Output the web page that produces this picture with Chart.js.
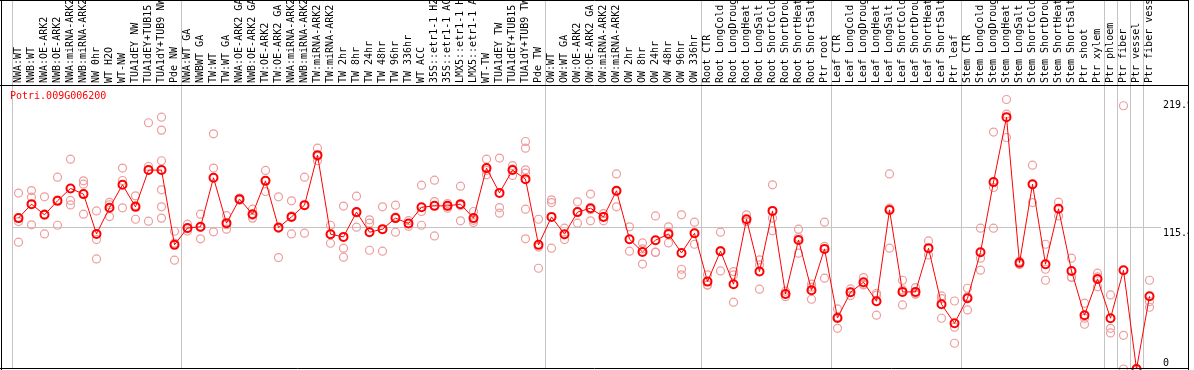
<!DOCTYPE html>
<html>
<head>
<meta charset="utf-8">
<script src="https://cdn.jsdelivr.net/npm/chart.js@4.4.1/dist/chart.umd.min.js"></script>
<style>
  body { margin: 0; background: #fff; }
</style>
</head>
<body>
<canvas id="expr" width="1194" height="370"></canvas>
<script>
'use strict';

const geneName = 'Potri.009G006200';

const samples = [
  'NWA:WT', 'NWB:WT', 'NWA:OE-ARK2', 'NWB:OE-ARK2', 'NWA:miRNA-ARK2', 'NWB:miRNA-ARK2',
  'NW 0hr', 'WT H2O', 'WT-NW', 'TUA1dEY NW', 'TUA1dEY+TUB15 NW', 'TUA1dY+TUB9 NW', 'Pde NW',
  'NWA:WT GA', 'NWBWT GA', 'TW:WT', 'TW:WT GA', 'NWA:OE-ARK2 GA', 'NWB:OE-ARK2 GA',
  'TW:OE-ARK2', 'TW:OE-ARK2 GA', 'NWA:miRNA-ARK2', 'NWB:miRNA-ARK2', 'TW:miRNA-ARK2',
  'TW:miRNA-ARK2', 'TW 2hr', 'TW 8hr', 'TW 24hr', 'TW 48hr', 'TW 96hr', 'TW 336hr', 'WT ACC',
  '35S::etr1-1 H2O', '35S::etr1-1 ACC', 'LMX5::etr1-1 H2O', 'LMX5::etr1-1 ACC', 'WT-TW',
  'TUA1dEY TW', 'TUA1dEY+TUB15 TW', 'TUA1dY+TUB9 TW', 'Pde TW',
  'OW:WT', 'OW:WT GA', 'OW:OE-ARK2', 'OW:OE-ARK2 GA', 'OW:miRNA-ARK2', 'OW:miRNA-ARK2',
  'OW 2hr', 'OW 8hr', 'OW 24hr', 'OW 48hr', 'OW 96hr', 'OW 336hr',
  'Root CTR', 'Root LongCold', 'Root LongDrought', 'Root LongHeat', 'Root LongSalt',
  'Root ShortCold', 'Root ShortDrought', 'Root ShortHeat', 'Root ShortSalt', 'Ptr root',
  'Leaf CTR', 'Leaf LongCold', 'Leaf LongDrought', 'Leaf LongHeat', 'Leaf LongSalt',
  'Leaf ShortCold', 'Leaf ShortDrought', 'Leaf ShortHeat', 'Leaf ShortSalt', 'Ptr leaf',
  'Stem CTR', 'Stem LongCold', 'Stem LongDrought', 'Stem LongHeat', 'Stem LongSalt',
  'Stem ShortCold', 'Stem ShortDrought', 'Stem ShortHeat', 'Stem ShortSalt', 'Ptr shoot',
  'Ptr xylem', 'Ptr phloem', 'Ptr fiber', 'Ptr vessel', 'Ptr fiber vessel'
];

// mean expression per sample (red line)
const meanValues = [
  123.1, 134.5, 125.8, 137.2, 147.3, 142.7, 110.2, 131.5, 150.3, 132.3, 162.3, 162.3, 101.3,
  115.1, 116.0, 156.0, 119.0, 138.6, 126.3, 153.5, 115.4, 124.1, 133.7, 174.5, 110.0, 107.8,
  128.0, 111.6, 114.1, 123.1, 118.7, 132.0, 133.1, 133.1, 134.5, 123.1, 163.9, 143.7, 162.3,
  154.9, 101.3,
  124.1, 110.0, 128.0, 131.2, 124.1, 145.4, 105.9, 95.5, 105.1, 110.2, 94.7, 110.8,
  71.3, 96.1, 69.2, 122.2, 79.5, 129.0, 61.2, 105.3, 64.3, 98.0,
  41.6, 62.6, 70.8, 55.3, 129.8, 62.9, 62.9, 98.6, 52.8, 37.3,
  57.7, 95.3, 152.5, 205.5, 86.6, 150.8, 85.5, 130.7, 80.0, 43.9, 73.5, 41.4, 80.6, 0, 59.4
];

// individual replicates per sample (pink circles)
const replicates = [
  [143.5, 120.3, 103.5], [145.6, 140.2, 117.6], [140.5, 126.5, 110.2], [156.5, 137.8, 117.3],
  [171.2, 137.5, 133.9], [153.5, 150.8, 126.3], [129.0, 105.6, 89.8], [136.0, 134.0, 124.4],
  [163.9, 153.8, 131.5], [141.3, 133.4, 122.2], [200.9, 165.2, 120.6],
  [205.5, 194.9, 169.9, 146.2, 132.3, 123.1], [112.4, 102.7, 88.8],
  [118.2, 114.5, 112.6], [126.3, 115.5, 106.2], [191.9, 163.9, 111.9], [125.2, 117.7, 114.1],
  [139.5, 138.6, 137.7], [130.4, 125.4, 123.1], [162.0, 153.7, 144.8], [140.5, 114.8, 90.9],
  [137.2, 124.9, 110.2], [156.5, 133.8, 110.8], [180.2, 173.4, 169.9], [117.3, 110.1, 102.6],
  [132.9, 98.6, 91.2], [141.0, 127.3, 115.7], [121.7, 119.0, 96.9], [132.3, 113.9, 96.1],
  [133.7, 124.0, 111.6], [121.0, 118.7, 116.4], [150.0, 128.5, 117.3], [154.1, 136.6, 108.6],
  [135.0, 133.1, 131.2], [149.2, 133.4, 120.9], [128.5, 121.3, 119.5], [171.2, 162.1, 158.4],
  [172.1, 131.7, 127.1], [166.0, 163.0, 157.9],
  [185.6, 180.2, 162.5, 159.8, 130.4, 106.2], [122.2, 99.5, 82.2],
  [138.0, 135.8, 98.6], [114.9, 109.5, 105.6], [136.4, 128.6, 119.0], [142.7, 130.0, 120.9],
  [126.8, 124.6, 120.9], [159.2, 144.7, 132.3], [116.0, 105.6, 96.1], [102.9, 98.0, 85.6],
  [124.9, 95.3, 95.1], [116.0, 111.7, 102.9], [125.8, 81.4, 76.8], [119.8, 110.8, 101.8],
  [76.8, 68.6, 68.5], [111.6, 96.7, 80.0], [79.5, 76.8, 54.5], [125.8, 120.5, 120.3],
  [89.0, 84.9, 65.1], [150.3, 123.1, 112.7], [63.5, 61.2, 59.0], [114.1, 107.3, 94.5],
  [69.2, 66.8, 56.9], [119.8, 100.1, 74.1],
  [49.0, 42.6, 33.2], [65.3, 62.6, 59.9], [74.6, 69.2, 68.6], [61.8, 60.2, 43.9],
  [159.2, 131.2, 98.6], [72.4, 64.5, 52.3], [66.4, 61.3, 61.0], [104.5, 98.2, 93.1],
  [59.6, 57.4, 41.4], [55.5, 34.1, 21.0],
  [65.9, 59.0, 48.2], [114.9, 90.4, 80.6], [193.3, 148.1, 114.9], [219.9, 208.0, 188.9],
  [88.0, 86.6, 85.2], [166.3, 150.3, 135.8], [101.8, 81.4, 72.4], [136.1, 131.1, 124.9],
  [90.4, 75.0, 74.6], [53.7, 41.5, 36.5], [78.2, 75.1, 67.2], [60.4, 33.2, 29.4],
  [214.8, 27.5, 0], [0, 0, 0], [72.4, 55.0, 50.4]
];

const yTicks = [0, 115.4, 219.9];
// sample groups end before these indexes
const groupEdges = [0, 13, 41, 53, 63, 73, 84, 85, 86, 87, 88];

// replicates go on a hidden linear axis that lines up with the sample slots
const repPoints = [];
replicates.forEach((vals, i) => {
  vals.forEach(v => repPoints.push({ x: i, y: v }));
});

const mono = "'DejaVu Sans Mono', monospace";
const gridGray = '#c4c4c4';
const none = 'rgba(0,0,0,0)';

// black frame + gene name
const frame = {
  id: 'frame',
  afterDraw(chart) {
    const ctx = chart.ctx;
    const top = chart.chartArea.top;
    ctx.save();
    ctx.strokeStyle = '#000';
    ctx.lineWidth = 1;
    ctx.beginPath();
    ctx.moveTo(1.5, 0); ctx.lineTo(1.5, 370);
    ctx.moveTo(1188.5, 0); ctx.lineTo(1188.5, 370);
    ctx.moveTo(0, 0.5); ctx.lineTo(1189, 0.5);
    ctx.moveTo(0, top - 0.5); ctx.lineTo(1189, top - 0.5);
    ctx.moveTo(0, 368.5); ctx.lineTo(1189, 368.5);
    ctx.stroke();
    ctx.fillStyle = '#ff0000';
    ctx.font = '10px ' + mono;
    ctx.textBaseline = 'top';
    ctx.fillText(geneName, 10, top + 5);
    ctx.restore();
  }
};

new Chart(document.getElementById('expr'), {
  type: 'line',
  data: {
    labels: samples,
    datasets: [{
      data: meanValues,
      borderColor: '#ff0000',
      borderWidth: 1,
      pointRadius: 4,
      pointBorderWidth: 2,
      pointBorderColor: '#ff0000',
      pointBackgroundColor: none,
      clip: false,
      order: 0
    }, {
      data: repPoints,
      xAxisID: 'xr',
      showLine: false,
      pointRadius: 4,
      pointBorderWidth: 1.2,
      pointBorderColor: '#ee9c9c',
      pointBackgroundColor: none,
      clip: false,
      order: 1
    }]
  },
  options: {
    responsive: false,
    animation: false,
    devicePixelRatio: 1,
    events: [],
    layout: { autoPadding: false, padding: { left: 12, right: 5, top: 0, bottom: 1 } },
    plugins: { legend: { display: false }, tooltip: { enabled: false } },
    scales: {
      x: {
        position: 'top',
        offset: true,
        border: { display: false },
        grid: {
          offset: true,
          tickLength: 86,
          color: c => groupEdges.includes(c.index) ? gridGray : none
        },
        ticks: {
          autoSkip: false,
          minRotation: 90,
          maxRotation: 90,
          padding: -83,
          labelOffset: 12,
          color: '#000',
          font: { family: mono, size: 10 }
        },
        afterFit: s => { s.height = 86; s.paddingLeft = 0; s.paddingRight = 0; }
      },
      xr: {
        type: 'linear',
        display: false,
        min: -0.5,
        max: samples.length - 0.5
      },
      y: {
        position: 'right',
        min: 0,
        max: 230.9,
        border: { display: false },
        afterBuildTicks: s => { s.ticks = yTicks.map(v => ({ value: v })); },
        grid: {
          tickLength: 5,
          color: c => (c.tick && c.tick.value === 115.4) ? gridGray : none
        },
        ticks: {
          padding: 2,
          color: '#000',
          font: { family: mono, size: 10 },
          callback: v => v === 0 ? ['0', ''] : ['', String(v)]
        },
        afterFit: s => { s.width = 33; s.paddingTop = 0; s.paddingBottom = 0; }
      }
    }
  },
  plugins: [frame]
});
</script>
</body>
</html>
